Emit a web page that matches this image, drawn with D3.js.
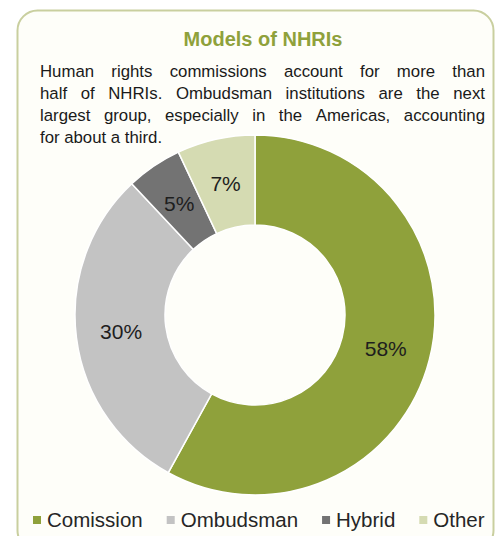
<!DOCTYPE html>
<html lang="en">
<head>
    <meta charset="UTF-8">
    <title>Models of NHRIs</title>
    <script src="https://d3js.org/d3.v7.min.js"></script>
    <style>
        body { margin: 0; background: #fff; }
        text { font-family: "Liberation Sans", Arial, sans-serif; }
    </style>
</head>
<body>
    <svg id="chart" width="498" height="536"></svg>

    <script>
        // chart data
        var categories = ["Comission", "Ombudsman", "Hybrid", "Other"];
        var shares = [58, 30, 5, 7];
        var colours = ["#8fa13b", "#c3c3c3", "#737373", "#d5dbb2"];

        var title = "Models of NHRIs";
        var blurb = [
            "Human rights commissions account for more than",
            "half of NHRIs. Ombudsman institutions are the next",
            "largest group, especially in the Americas, accounting",
            "for about a third."
        ];

        var svg = d3.select("#chart");

        // frame
        svg.append("rect")
            .attr("x", 17.5).attr("y", 10.5)
            .attr("width", 476).attr("height", 540)
            .attr("rx", 20).attr("ry", 20)
            .attr("fill", "#fefef9")
            .attr("stroke", "#c9cf9f")
            .attr("stroke-width", 2);

        svg.append("text")
            .attr("x", 263).attr("y", 46)
            .attr("text-anchor", "middle")
            .attr("font-size", "20px")
            .attr("font-weight", "bold")
            .attr("fill", "#8fa13b")
            .text(title);

        // justified paragraph: spread words over the line width
        var left = 40, right = 485;
        blurb.forEach(function(line, i) {
            var y = 77 + i * 22;
            var words = line.split(" ");
            var g = svg.append("g");
            var nodes = words.map(w => g.append("text")
                .attr("y", y)
                .attr("font-size", "16.8px")
                .attr("fill", "#1a1a1a")
                .text(w));
            var widths = nodes.map(n => n.node().getComputedTextLength());
            var total = d3.sum(widths);
            var last = i == blurb.length - 1;
            var gap = last ? 4.6 : (right - left - total) / (words.length - 1);
            var x = left;
            nodes.forEach(function(n, j) {
                n.attr("x", x);
                x += widths[j] + gap;
            });
        });

        // donut
        var cx = 255, cy = 315, rOut = 180, rIn = 90;
        var pie = d3.pie().sort(null).value(d => d.value);
        var arcs = pie(categories.map((c, i) => ({name: c, value: shares[i], colour: colours[i]})));
        var arc = d3.arc().innerRadius(rIn).outerRadius(rOut);
        var labelArc = d3.arc().innerRadius(135).outerRadius(135);

        var donut = svg.append("g").attr("transform", "translate(" + cx + "," + cy + ")");
        donut.selectAll("path")
            .data(arcs)
            .join("path")
            .attr("d", arc)
            .attr("fill", d => d.data.colour)
            .attr("stroke", "#fff")
            .attr("stroke-width", 1.5);

        donut.selectAll("text")
            .data(arcs)
            .join("text")
            .attr("x", d => labelArc.centroid(d)[0])
            .attr("y", d => labelArc.centroid(d)[1])
            .attr("dy", "0.35em")
            .attr("text-anchor", "middle")
            .attr("font-size", "21px")
            .attr("fill", "#1e1e1e")
            .text(d => d.data.value + "%");

        // legend
        var legend = svg.append("g");
        var lx = 33;
        categories.forEach(function(c, i) {
            legend.append("rect")
                .attr("x", lx).attr("y", 516)
                .attr("width", 8).attr("height", 8)
                .attr("fill", colours[i]);
            var t = legend.append("text")
                .attr("x", lx + 14).attr("y", 527)
                .attr("font-size", "20.5px")
                .attr("fill", "#262626")
                .text(c);
            lx += 14 + t.node().getComputedTextLength() + 24;
        });
    </script>
</body>
</html>
